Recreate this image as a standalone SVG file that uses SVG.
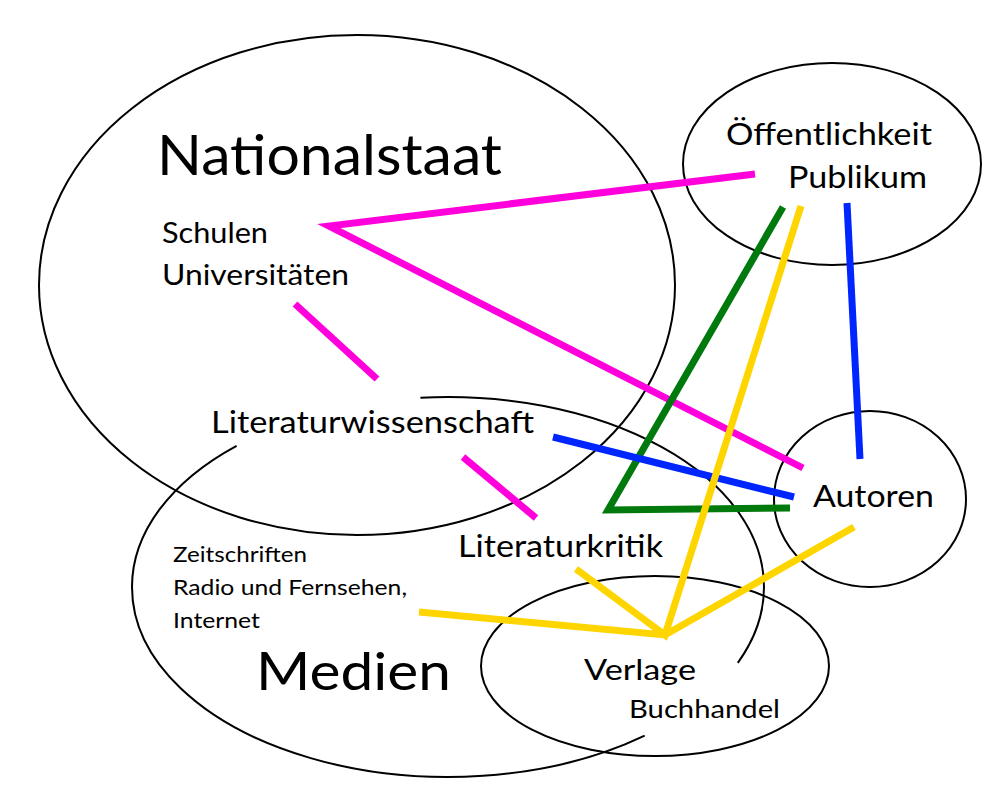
<svg xmlns="http://www.w3.org/2000/svg" width="1000" height="800" viewBox="0 0 1000 800">
  <style>
    .shape { fill: none; stroke: #000; stroke-width: 2; }
    .t { font-family: Lato, "Open Sans", "Liberation Sans", sans-serif; fill: #000; }
    .c { fill: none; stroke-width: 7; stroke-linecap: butt; stroke-linejoin: miter; }
    .pink { stroke: #ff00dc; }
    .blue { stroke: #0026ff; }
    .green { stroke: #007a0c; }
    .yellow { stroke: #ffd500; }
  </style>
  <rect width="1000" height="800" fill="#fff"/>

  <g id="nationalstaat">
    <ellipse class="shape" cx="357" cy="285" rx="318" ry="250"/>
    <text class="t" x="157" y="175" font-size="56" textLength="345" lengthAdjust="spacingAndGlyphs">Nationalstaat</text>
    <text class="t" x="162" y="243" font-size="29" textLength="106" lengthAdjust="spacingAndGlyphs">Schulen</text>
    <text class="t" x="162" y="285" font-size="29" textLength="187" lengthAdjust="spacingAndGlyphs">Universitäten</text>
  </g>

  <g id="oeffentlichkeit">
    <ellipse class="shape" cx="832" cy="164" rx="149" ry="101"/>
    <text class="t" x="726" y="145" font-size="30" textLength="206" lengthAdjust="spacingAndGlyphs">Öffentlichkeit</text>
    <text class="t" x="788" y="188" font-size="30" textLength="139" lengthAdjust="spacingAndGlyphs">Publikum</text>
  </g>

  <g id="autoren">
    <ellipse class="shape" cx="870" cy="499" rx="96" ry="88"/>
    <text class="t" x="813" y="507" font-size="30" textLength="121" lengthAdjust="spacingAndGlyphs">Autoren</text>
  </g>

  <g id="medien">
    <path class="shape" d="M 236.6,445.8 A 316 190 0 0 0 132,587 A 316 190 0 0 0 644.7,735.7"/>
    <path class="shape" d="M 737.8,662.8 A 316 190 0 0 0 764,587 A 316 190 0 0 0 420.4,397.7"/>
    <text class="t" x="173" y="562" font-size="22" textLength="134" lengthAdjust="spacingAndGlyphs">Zeitschriften</text>
    <text class="t" x="173" y="595" font-size="22" textLength="234" lengthAdjust="spacingAndGlyphs">Radio und Fernsehen,</text>
    <text class="t" x="173" y="628" font-size="22" textLength="87" lengthAdjust="spacingAndGlyphs">Internet</text>
    <text class="t" x="256" y="690" font-size="53" textLength="195" lengthAdjust="spacingAndGlyphs">Medien</text>
  </g>

  <g id="verlage">
    <ellipse class="shape" cx="655" cy="666" rx="174" ry="90"/>
    <text class="t" x="584" y="680" font-size="28" textLength="112" lengthAdjust="spacingAndGlyphs">Verlage</text>
    <text class="t" x="629" y="718" font-size="25" textLength="151" lengthAdjust="spacingAndGlyphs">Buchhandel</text>
  </g>

  <g id="literaturwissenschaft">
    <text class="t" x="211" y="433" font-size="30" textLength="323" lengthAdjust="spacingAndGlyphs">Literaturwissenschaft</text>
  </g>

  <g id="literaturkritik">
    <text class="t" x="458" y="557" font-size="31" textLength="205" lengthAdjust="spacingAndGlyphs">Literaturkritik</text>
  </g>

  <g id="connectors">
    <polyline class="c pink" points="755,174 329,226 803,468"/>
    <line class="c pink" x1="295" y1="304" x2="377" y2="379"/>
    <line class="c pink" x1="463" y1="457" x2="536" y2="518"/>
    <polyline class="c green" points="783,207 608,510 790,508"/>
    <line class="c blue" x1="847" y1="203" x2="860" y2="459"/>
    <line class="c blue" x1="553" y1="437" x2="794" y2="497"/>
    <polyline class="c yellow" points="419,612 665,635 854,527"/>
    <polyline class="c yellow" points="576,569 665,635 801,206"/>
  </g>
</svg>
